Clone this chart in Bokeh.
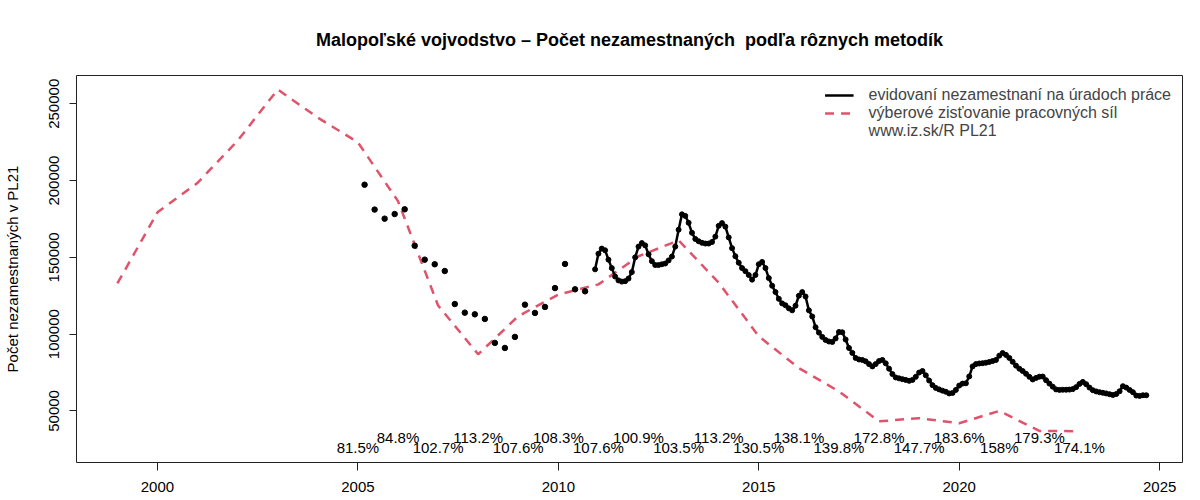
from bokeh.plotting import figure
from bokeh.models import Range1d, FixedTicker, Legend, LegendItem, ColumnDataSource, BasicTickFormatter
from bokeh.embed import file_html
from bokeh.resources import INLINE

FONT = "Liberation Sans"
FS = "15px"

# LFS (výberové zisťovanie pracovných síl), yearly
lfs_years = list(range(1999, 2024))
lfs_values = [133000, 179300, 198500, 226000, 259300, 241000, 224900, 186600,
              118700, 86900, 111700, 125800, 132400, 150700, 161100, 133500,
              98600, 77900, 62700, 43200, 45300, 42000, 50000, 37000, 36800]

# registered unemployed, quarterly (Mar, Jun, Sep, Dec) 2005-2010
reg_q_start = 2005 + 2 / 12
reg_q_values = [197300, 181100, 175200, 178200,
                181300, 157600, 148500, 145500,
                141100, 119600, 114000, 112900,
                109900, 94300, 91000, 98200,
                119200, 113800, 117700, 130000,
                145700, 129200, 127900]

# registered unemployed, monthly from Dec 2010
reg_m_start = 2010 + 11 / 12
reg_m_values = [
    142200,
    152400, 155700, 154600, 148500, 143000, 137500, 135000, 134200, 134500, 136200, 140400, 150000,
    157000, 159300, 157800, 152000, 147500, 145000, 145000, 145500, 146000, 148000, 150500, 157000,
    168000, 178000, 177000, 172500, 166000, 162000, 160500, 159500, 159000, 159000, 160000, 163500,
    170500, 172300, 170000, 163000, 156000, 150700, 146500, 143000, 141000, 138500, 135500, 138500,
    145500, 147000, 143000, 136500, 131500, 127400, 123000, 120000, 118800, 116800, 115500, 118500,
    125000, 127400, 124500, 115500, 111500, 104500, 101000, 98200, 96200, 95200, 94900, 97200,
    101400, 101200, 96500, 91000, 87800, 84500, 83500, 83200, 82300, 80500, 79000, 80500,
    82500, 83200, 81000, 77500, 74000, 71800, 71200, 70700, 70200, 69600, 70200, 72200,
    75000, 76000, 73200, 69800, 66800, 65000, 64000, 63200, 62500, 61400, 61700, 63700,
    66500, 67800, 68000, 72500, 79000, 80500, 80900, 81100, 81400, 81900, 82500, 83200,
    86000, 87700, 86500, 84500, 82000, 79500, 77500, 76000, 74200, 72200, 70500, 71500,
    72300, 72400, 70000, 67800, 65800, 64000, 63700, 63800, 63800, 63900, 64200, 65500,
    67600, 68900, 67400, 65200, 63500, 62700, 62200, 61800, 61400, 60900, 60400, 61000,
    62800, 66100, 65200, 63700, 62200, 60000, 59800, 60200, 60200,
]

# ratio labels (registered / LFS)
ratio_years = list(range(2005, 2024))
ratio_labels = ["81.5%", "84.8%", "102.7%", "113.2%", "107.6%", "108.3%", "107.6%",
                "100.9%", "103.5%", "113.2%", "130.5%", "138.1%", "139.8%", "172.8%",
                "147.7%", "183.6%", "158%", "179.3%", "174.1%"]
ratio_levels = [26000, 33000]

x_ticks = [2000, 2005, 2010, 2015, 2020, 2025]
y_ticks = [50000, 100000, 150000, 200000, 250000]

title = "Malopoľské vojvodstvo – Počet nezamestnaných\u00a0 podľa rôznych metodík"
y_label = "Počet nezamestnaných v PL21"
legend_labels = ["evidovaní nezamestnaní na úradoch práce",
                 "výberové zisťovanie pracovných síl",
                 "www.iz.sk/R PL21"]

RED = "#DF536B"

p = figure(width=1200, height=500, output_backend="svg", toolbar_location=None,
           x_range=Range1d(1997.98, 2025.57), y_range=Range1d(16422, 268416),
           min_border_left=75, min_border_right=18, min_border_top=75, min_border_bottom=38,
           title=title)
p.background_fill_color = "white"
p.border_fill_color = "white"
p.outline_line_color = "#222222"
p.outline_line_width = 1
p.grid.visible = False

p.title.align = "center"
p.title.text_font = FONT
p.title.text_font_size = "18px"
p.title.text_font_style = "bold"
p.title.text_color = "black"
p.title.standoff = 51

for ax in (p.xaxis[0], p.yaxis[0]):
    ax.axis_line_color = None
    ax.major_tick_line_color = "#222222"
    ax.minor_tick_line_color = None
    ax.major_tick_in = 0
    ax.major_label_text_font = FONT
    ax.major_label_text_font_size = FS
    ax.major_label_text_color = "black"

p.xaxis.ticker = FixedTicker(ticks=x_ticks)
p.xaxis.major_tick_out = 8
p.xaxis.major_label_standoff = 11
p.yaxis.ticker = FixedTicker(ticks=y_ticks)
p.yaxis.formatter = BasicTickFormatter(use_scientific=False)
p.yaxis.major_tick_out = 7
p.yaxis.major_label_orientation = "vertical"
p.yaxis.major_label_standoff = 10
p.yaxis.axis_label = y_label
p.yaxis.axis_label_text_font = FONT
p.yaxis.axis_label_text_font_size = FS
p.yaxis.axis_label_text_font_style = "normal"
p.yaxis.axis_label_text_color = "black"
p.yaxis.axis_label_standoff = 26

# LFS line
r_lfs = p.line(lfs_years, lfs_values, line_color=RED, line_width=2.5, line_dash="9 7")

# quarterly registered points
q_x = [reg_q_start + i * 0.25 for i in range(len(reg_q_values))]
p.scatter(q_x, reg_q_values, size=5.5, color="black")

# monthly registered line
m_x = [reg_m_start + i / 12 for i in range(len(reg_m_values))]
r_reg = p.line(m_x, reg_m_values, line_color="black", line_width=2.5)
p.scatter(m_x, reg_m_values, size=5, color="black")

# ratio labels
lab_y = [ratio_levels[i % 2] for i in range(len(ratio_years))]
src = ColumnDataSource(dict(x=ratio_years, y=lab_y, t=ratio_labels))
p.text(x="x", y="y", text="t", source=src, text_align="center", text_baseline="middle",
       text_font_size=FS, text_font={"value": FONT}, text_color="black")

r_dummy = p.line([], [], line_alpha=0)

legend = Legend(items=[LegendItem(label=legend_labels[0], renderers=[r_reg]),
                       LegendItem(label=legend_labels[1], renderers=[r_lfs]),
                       LegendItem(label=legend_labels[2], renderers=[r_dummy])],
                location="top_right")
legend.border_line_color = None
legend.background_fill_alpha = 0
legend.label_text_font = FONT
legend.label_text_font_size = "16px"
legend.label_height = 16
legend.glyph_height = 16
legend.glyph_width = 29
legend.spacing = 0
legend.padding = 0
legend.margin = 11
legend.label_standoff = 15
p.add_layout(legend)

open("out.html", "w").write(file_html(p, INLINE))
